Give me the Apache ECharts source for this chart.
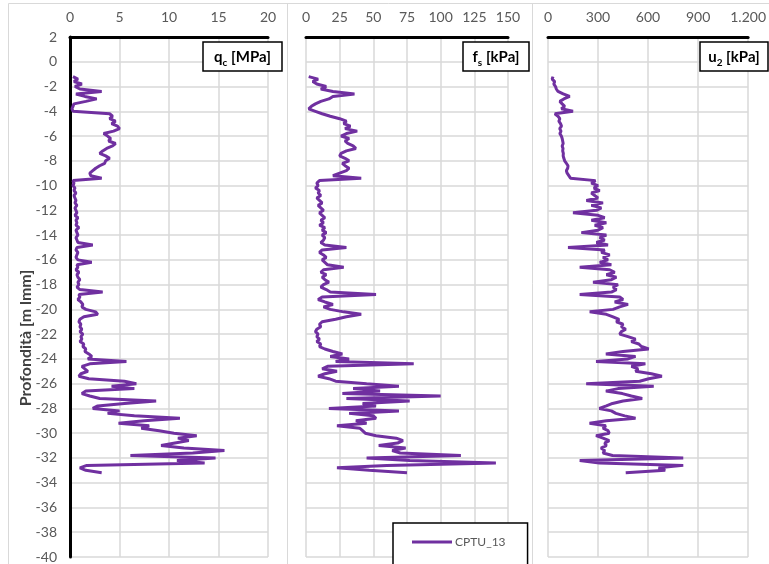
<!DOCTYPE html>
<html>
<head>
<meta charset="utf-8">
<script src="https://cdn.jsdelivr.net/npm/echarts/dist/echarts.min.js"></script>
<style>
html,body{margin:0;padding:0;background:#fff;}
#chart{width:769px;height:564px;}
</style>
</head>
<body>
<div id="chart"></div>
<script>
// Depth (m s.l.m.)
var depth = [-1.2,-1.4,-1.6,-1.8,-2,-2.2,-2.4,-2.6,-2.8,-3,
-3.2,-3.4,-3.6,-3.8,-4,-4.2,-4.4,-4.6,-4.8,-5,
-5.2,-5.4,-5.6,-5.8,-6,-6.2,-6.4,-6.6,-6.8,-7,
-7.2,-7.4,-7.6,-7.8,-8,-8.2,-8.4,-8.6,-8.8,-9,
-9.2,-9.4,-9.6,-9.8,-10,-10.2,-10.4,-10.6,-10.8,-11,
-11.2,-11.4,-11.6,-11.8,-12,-12.2,-12.4,-12.6,-12.8,-13,
-13.2,-13.4,-13.6,-13.8,-14,-14.2,-14.4,-14.6,-14.8,-15,
-15.2,-15.4,-15.6,-15.8,-16,-16.2,-16.4,-16.6,-16.8,-17,
-17.2,-17.4,-17.6,-17.8,-18,-18.2,-18.4,-18.6,-18.8,-19,
-19.2,-19.4,-19.6,-19.8,-20,-20.2,-20.4,-20.6,-20.8,-21,
-21.2,-21.4,-21.6,-21.8,-22,-22.2,-22.4,-22.6,-22.8,-23,
-23.2,-23.4,-23.6,-23.8,-24,-24.2,-24.4,-24.6,-24.8,-25,
-25.2,-25.4,-25.6,-25.8,-26,-26.2,-26.4,-26.6,-26.8,-27,
-27.2,-27.4,-27.6,-27.8,-28,-28.2,-28.4,-28.6,-28.8,-29,
-29.2,-29.4,-29.6,-29.8,-30,-30.2,-30.4,-30.6,-30.8,-31,
-31.2,-31.4,-31.6,-31.8,-32,-32.2,-32.4,-32.6,-32.8,-33,
-33.2];

// qc [MPa]
var qc = [0.3,0.8,0.4,1.2,0.5,1.0,3.2,0.6,1.5,2.7,
1.6,0.4,0.3,0.2,0.3,4.0,4.3,4.0,4.6,4.2,
4.8,5.0,4.4,3.4,3.8,4.1,3.9,4.6,4.3,3.7,
3.3,3.0,3.6,4.0,3.6,3.5,3.0,2.6,2.3,2.0,
2.1,3.2,0.3,0.4,0.3,0.5,0.4,0.6,0.4,0.5,
0.6,0.5,0.7,0.5,0.6,0.7,0.5,0.8,0.6,0.7,
0.6,0.9,0.6,0.7,0.8,0.6,0.7,0.8,2.3,0.7,
0.6,0.8,0.7,0.6,0.8,2.2,0.7,0.8,0.6,0.9,
0.7,0.8,1.0,0.8,0.9,0.7,1.0,3.3,0.9,1.0,
0.8,1.1,1.3,1.2,1.6,2.6,2.8,1.4,1.0,0.9,
1.1,1.0,1.2,1.0,1.3,1.1,1.2,1.0,1.4,1.3,
1.6,1.5,1.9,2.2,1.8,5.7,2.0,1.2,1.5,1.8,
1.1,0.9,1.9,5.5,6.7,4.2,6.5,1.6,1.2,2.0,
3.0,8.7,5.5,2.8,2.3,5.0,3.8,6.5,11.1,7.5,
4.9,8.0,7.2,9.0,10.5,12.8,10.9,12.0,10.6,9.2,
11.5,15.6,12.4,6.1,14.7,10.8,13.6,1.7,1.0,1.6,
3.2];

// fs [kPa]
var fs = [2,9,5,8,15,11,20,36,20,17,
11,7,4,2,7,12,18,25,30,28,
33,29,38,30,26,32,29,31,35,37,
30,26,25,29,32,27,29,32,30,25,
20,41,10,8,9,7,10,9,11,8,
10,12,9,11,13,10,12,14,11,13,
10,14,12,15,12,14,13,11,14,30,
12,10,13,15,12,14,16,28,13,11,
15,12,14,17,13,11,15,18,52,12,
9,14,20,13,18,28,41,30,22,12,
10,11,8,7,9,8,10,8,11,10,
14,20,27,18,32,22,80,16,12,23,
14,9,17,22,45,69,35,55,27,100,
30,77,42,52,17,69,32,50,52,37,
45,23,40,42,44,52,67,72,68,54,
74,64,70,115,45,77,141,60,23,47,
75];

// u2 [kPa]
var u2 = [30,25,40,35,45,50,60,91,130,95,
71,85,100,80,150,41,60,71,65,75,
81,70,78,71,80,85,88,91,85,90,
88,92,91,95,100,110,120,118,110,115,
125,135,285,260,300,275,310,260,280,300,
230,330,260,320,290,150,300,340,260,350,
280,330,300,200,350,310,340,290,360,120,
340,320,370,330,360,310,380,190,370,400,
350,410,380,270,420,390,410,380,190,430,
450,400,480,430,390,250,350,390,426,410,
450,440,466,440,430,480,525,500,545,560,
604,450,347,525,480,288,584,500,540,525,
620,683,604,550,229,634,420,347,446,500,
565,450,387,350,308,380,407,460,525,350,
249,347,330,360,367,288,330,367,340,350,
318,340,330,387,811,190,308,811,663,703,
466];

var seriesName = 'CPTU_13';
var xMax = [20, 150, 1200];
var xStep = [5, 25, 300];
var yMin = -40, yMax = 2, yStep = 2;
var yTitle = 'Profondità [m lmm]';

function pairs(vals){ return depth.map(function(d,i){ return [vals[i], d]; }); }
function fmt(v){ return String(v).replace(/\B(?=(\d{3})+(?!\d))/g, '.'); }

var FONT = 'Lato';
var gridDefs = [
  {left:70, top:37, width:198, height:520},
  {left:306, top:37, width:202, height:520},
  {left:548, top:37, width:201, height:520}
];

var xAxes = gridDefs.map(function(g,i){
  return {
    gridIndex:i, type:'value', position:'top', min:0, max:xMax[i], interval:xStep[i],
    axisLine:{show:true, onZero:false, lineStyle:{color:'#000', width:3}},
    axisTick:{show:false},
    axisLabel:{color:'#595959', fontSize:14, fontFamily:FONT, margin:13, formatter:fmt},
    splitLine:{show:true, lineStyle:{color:'#d9d9d9', width:1.5}}
  };
});
var yAxes = gridDefs.map(function(g,i){
  return {
    gridIndex:i, type:'value', min:yMin, max:yMax, interval:yStep,
    axisLine:{show:i===0, onZero:false, lineStyle:{color:'#000', width:3}},
    axisTick:{show:false},
    axisLabel:{show:i===0, color:'#595959', fontSize:14, fontFamily:FONT, margin:13},
    splitLine:{show:true, lineStyle:{color:'#d9d9d9', width:1.5}}
  };
});
var dataSets = [qc, fs, u2];
var series = dataSets.map(function(vals,i){
  return {
    name:seriesName, type:'line', xAxisIndex:i, yAxisIndex:i,
    data:pairs(vals), showSymbol:false, symbol:'none',
    lineStyle:{color:'#7030a0', width:3}, itemStyle:{color:'#7030a0'},
    animation:false
  };
});

function titleBox(x, y, w, h, rtext){
  return {
    type:'group', children:[
      {type:'rect', shape:{x:x, y:y, width:w, height:h},
       style:{fill:'#fff', stroke:'#000', lineWidth:1.5}, z:100},
      {type:'text', x:x+w/2, y:y+h/2+1, z:101,
       style:{text:rtext, align:'center', verticalAlign:'middle',
         rich:{
           b:{fontSize:15, fontWeight:'bold', fontFamily:FONT, color:'#000', lineHeight:20},
           s:{fontSize:10, fontWeight:'bold', fontFamily:FONT, color:'#000', verticalAlign:'bottom', lineHeight:20, padding:[6,0,0,0]}
         }}}
    ]
  };
}

var graphics = [
  {type:'line', shape:{x1:8.5, y1:3.5, x2:769, y2:3.5}, style:{stroke:'#d9d9d9', lineWidth:1}},
  {type:'line', shape:{x1:8.5, y1:3.5, x2:8.5, y2:564}, style:{stroke:'#d9d9d9', lineWidth:1}},
  {type:'line', shape:{x1:287.5, y1:3.5, x2:287.5, y2:564}, style:{stroke:'#d9d9d9', lineWidth:1}},
  {type:'line', shape:{x1:532.5, y1:3.5, x2:532.5, y2:564}, style:{stroke:'#d9d9d9', lineWidth:1}},
  titleBox(203, 42, 79, 29, '{b|q}{s|c}{b| [MPa]}'),
  titleBox(463, 42, 66, 29, '{b|f}{s|s}{b| [kPa]}'),
  titleBox(700, 42, 68, 29, '{b|u}{s|2}{b| [kPa]}'),
  {type:'text', x:26, y:338, rotation:Math.PI/2,
   style:{text:yTitle, align:'center', verticalAlign:'middle', fontSize:16, fontWeight:'bold', fontFamily:FONT, fill:'#404040'}}
];

var chart = echarts.init(document.getElementById('chart'), null, {renderer:'canvas'});
chart.setOption({
  animation:false,
  backgroundColor:'#fff',
  grid:gridDefs,
  xAxis:xAxes,
  yAxis:yAxes,
  series:series,
  legend:{
    data:[seriesName], left:393, top:523,
    icon:'rect', itemWidth:40, itemHeight:3, itemGap:5,
    padding:[13,22,20,19],
    borderColor:'#000', borderWidth:1.5, backgroundColor:'#fff',
    textStyle:{fontSize:12, fontFamily:FONT, color:'#595959', padding:[0,0,0,-2]}
  },
  graphic:graphics
});
</script>
</body>
</html>
